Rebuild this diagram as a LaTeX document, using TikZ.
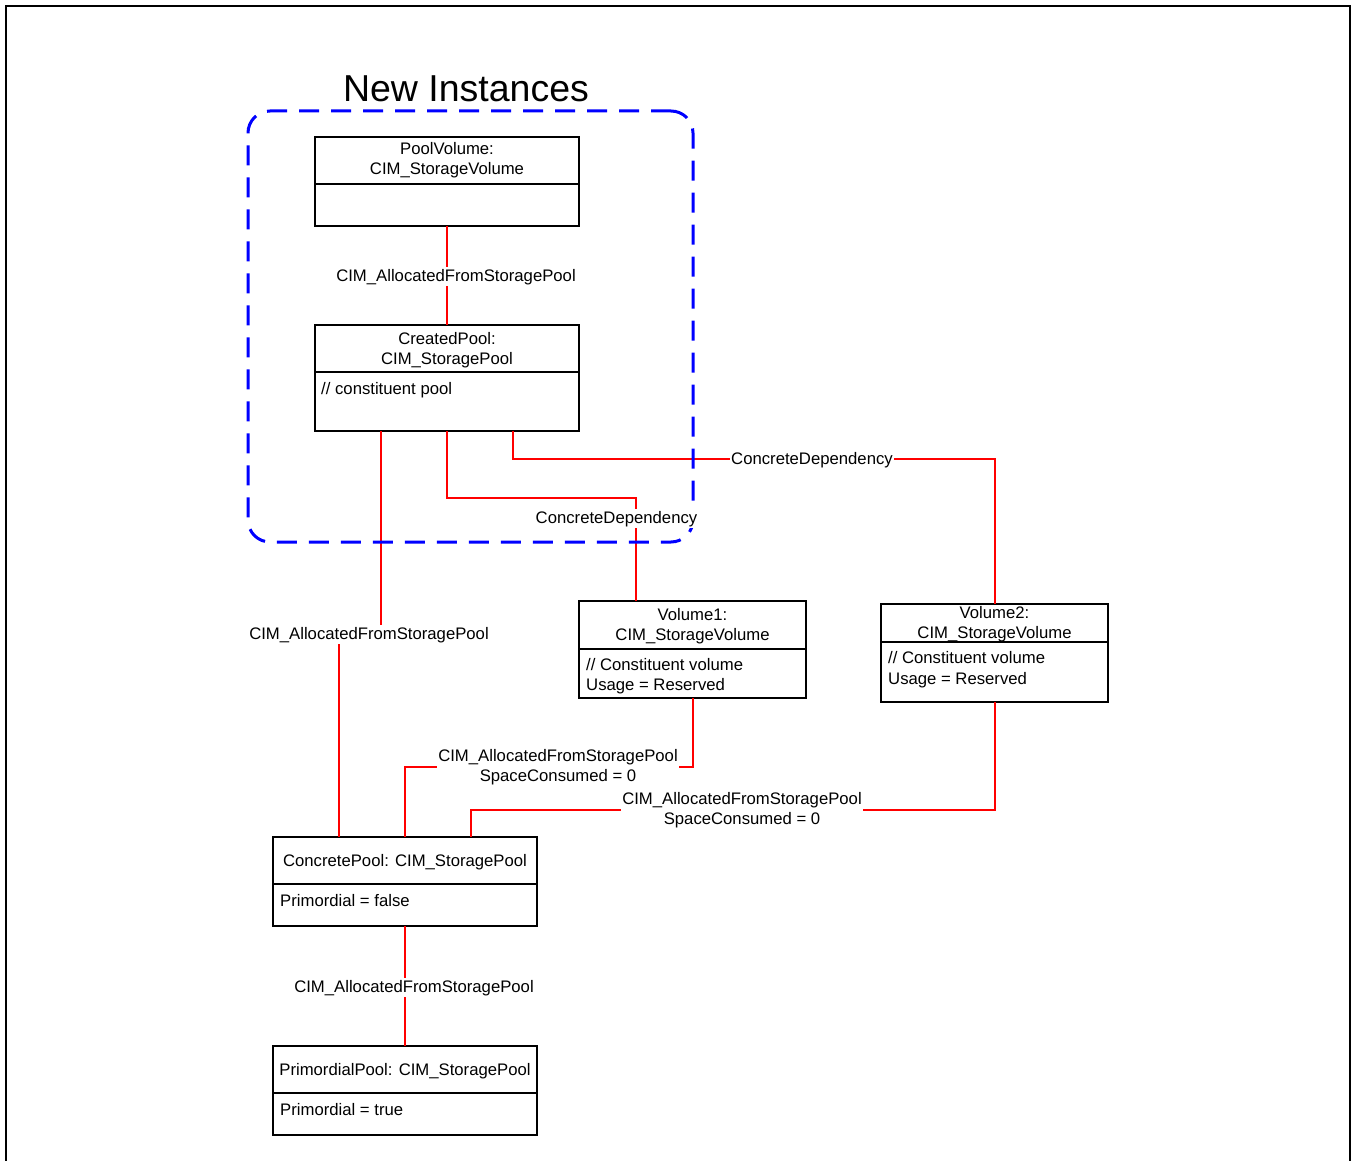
\documentclass[tikz,border=0pt]{standalone}
\usepackage{fontspec}
\setmainfont{Liberation Sans}
\begin{document}
\begin{tikzpicture}[x=1pt,y=-1pt,
  every node/.style={font=\fontsize{16.7}{20}\selectfont, inner sep=0pt},
  box/.style={draw=black, line width=2pt, outer sep=0pt, minimum width=264, minimum height=89},
  divider/.style={draw=black, line width=2pt},
  conn/.style={draw=red, line width=2pt},
  lbl/.style={fill=white, inner sep=1.5pt},
  dashbox/.style={draw=blue, line width=3pt, dash pattern=on 20pt off 12pt, rounded corners=22pt, outer sep=0pt},
]
\useasboundingbox (0,0) rectangle (1352,1161);
\draw[line width=2pt] (6,6) rectangle (1350,1175);

% boxes
\node[box, minimum width=264, minimum height=89] (pv) at (447,181.5) {};
\draw[divider] ([yshift=-47]pv.north west) -- ([yshift=-47]pv.north east);
\node[anchor=base] (pvt1) at (447,155) {PoolVolume:};
\node[anchor=base] (pvt2) at (447,175) {CIM\_StorageVolume};

\node[box, minimum width=264, minimum height=106] (cp) at (447,378) {};
\draw[divider] ([yshift=-47]cp.north west) -- ([yshift=-47]cp.north east);
\node[anchor=base] (cpt1) at (447,344) {CreatedPool:};
\node[anchor=base] (cpt2) at (447,364) {CIM\_StoragePool};
\node[anchor=base west] (cpb1) at (321,394) {// constituent pool};

\node[box, minimum width=227, minimum height=97] (v1) at (692.5,649.5) {};
\draw[divider] ([yshift=-48]v1.north west) -- ([yshift=-48]v1.north east);
\node[anchor=base] (v1t1) at (692.5,620) {Volume1:};
\node[anchor=base] (v1t2) at (692.5,640) {CIM\_StorageVolume};
\node[anchor=base west] (v1b1) at (586,670) {// Constituent volume};
\node[anchor=base west] (v1b2) at (586,690) {Usage = Reserved};

\node[box, minimum width=227, minimum height=98] (v2) at (994.5,653) {};
\draw[divider] ([yshift=-38]v2.north west) -- ([yshift=-38]v2.north east);
\node[anchor=base] (v2t1) at (994.5,618) {Volume2:};
\node[anchor=base] (v2t2) at (994.5,638) {CIM\_StorageVolume};
\node[anchor=base west] (v2b1) at (888,663) {// Constituent volume};
\node[anchor=base west] (v2b2) at (888,684) {Usage = Reserved};

\node[box, minimum width=264, minimum height=89] (conc) at (405,881.5) {};
\draw[divider] ([yshift=-47]conc.north west) -- ([yshift=-47]conc.north east);
\node[anchor=base] (conct) at (405,866) {ConcretePool: CIM\_StoragePool};
\node[anchor=base west] (concb) at (280,906) {Primordial = false};

\node[box, minimum width=264, minimum height=89] (prim) at (405,1090.5) {};
\draw[divider] ([yshift=-47]prim.north west) -- ([yshift=-47]prim.north east);
\node[anchor=base] (primt) at (405,1075) {PrimordialPool: CIM\_StoragePool};
\node[anchor=base west] (primb) at (280,1115) {Primordial = true};

% connectors
\draw[conn] (pv.south) -- (cp.north);
\draw[conn] ([xshift=-66]cp.south) -- ++(0,202) -| ([xshift=-66]conc.north);
\draw[conn] (cp.south) -- ++(0,67) -| ([xshift=-56.5]v1.north);
\draw[conn] ([xshift=66]cp.south) -- ++(0,28) -| (v2.north);
\draw[conn] (v1.south) -- ++(0,69) -| (conc.north);
\draw[conn] (v2.south) -- ++(0,108) -| ([xshift=66]conc.north);
\draw[conn] (conc.south) -- (prim.north);

% group
\node[dashbox, minimum width=445, minimum height=431] (grp) at (470.5,326.5) {};
\node[font=\fontsize{37.5}{45}\selectfont] (title) at (466,89) {New Instances};

% labels
\node[lbl, anchor=base] (lA) at (456,281) {CIM\_AllocatedFromStoragePool};
\node[lbl, anchor=base] (lB) at (369,639) {CIM\_AllocatedFromStoragePool};
\node[lbl, anchor=base] (lC) at (616.5,523) {ConcreteDependency};
\node[lbl, anchor=base] (lD) at (812,464) {ConcreteDependency};
\node[lbl, align=center] (lE) at (558,767) {CIM\_AllocatedFromStoragePool\\SpaceConsumed = 0};
\node[lbl, align=center] (lF) at (742,810) {CIM\_AllocatedFromStoragePool\\SpaceConsumed = 0};
\node[lbl, anchor=base] (lG) at (414,992) {CIM\_AllocatedFromStoragePool};
\end{tikzpicture}
\end{document}
